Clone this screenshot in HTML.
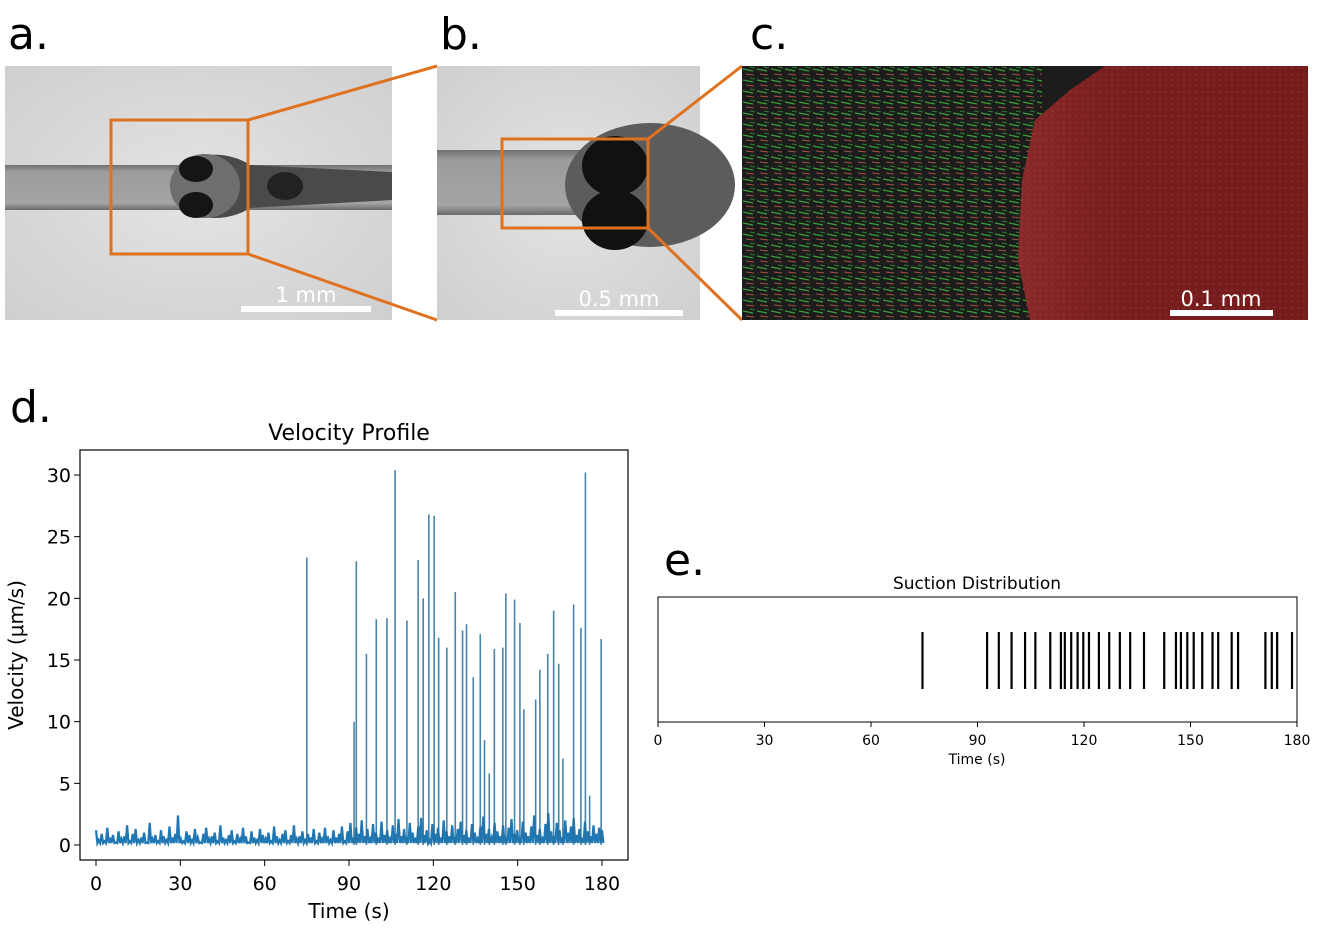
<!DOCTYPE html>
<html><head><meta charset="utf-8"><style>
html,body{margin:0;padding:0;background:#fff;}
svg{display:block;font-family:"DejaVu Sans","Liberation Sans",sans-serif;}
</style></head><body>
<svg id="fig" width="1325" height="932" viewBox="0 0 1325 932" xmlns="http://www.w3.org/2000/svg">
<defs>
<radialGradient id="vig" cx="50%" cy="50%" r="70%"><stop offset="0" stop-color="#e4e4e4"/><stop offset="1" stop-color="#cfcfcf"/></radialGradient>
<linearGradient id="tube" x1="0" y1="0" x2="0" y2="1"><stop offset="0" stop-color="#707070"/><stop offset="0.15" stop-color="#9c9c9c"/><stop offset="0.85" stop-color="#a4a4a4"/><stop offset="1" stop-color="#6a6a6a"/></linearGradient>
<linearGradient id="redg" x1="0" y1="0" x2="1" y2="0"><stop offset="0" stop-color="#8a2a2a"/><stop offset="0.3" stop-color="#7a1e1e"/><stop offset="1" stop-color="#741b1b"/></linearGradient>
<pattern id="arrows" width="14" height="11" patternUnits="userSpaceOnUse"><line x1="1" y1="3" x2="11" y2="5" stroke="#3fbf3f" stroke-width="1.4"/><line x1="4" y1="8" x2="12" y2="9" stroke="#c0604a" stroke-width="0.9"/><line x1="8" y1="1" x2="13" y2="2" stroke="#2e9a2e" stroke-width="0.9"/></pattern>
<pattern id="speck" width="6" height="6" patternUnits="userSpaceOnUse"><circle cx="2" cy="2" r="0.7" fill="#b06060"/></pattern>
</defs>

<text x="8" y="49" font-size="44">a.</text>
<text x="440" y="49" font-size="44">b.</text>
<text x="750" y="49" font-size="44">c.</text>
<text x="10" y="422" font-size="44">d.</text>
<text x="664" y="575" font-size="44">e.</text>

<g>
<rect x="5" y="66" width="387" height="254" fill="url(#vig)"/>
<rect x="5" y="165" width="387" height="45" fill="url(#tube)"/>
<path d="M175,186 C175,150 225,148 250,165 L392,172 L392,200 L250,208 C225,225 175,222 175,186 Z" fill="#4a4a4a"/>
<ellipse cx="205" cy="186" rx="35" ry="32" fill="#6e6e6e"/>
<ellipse cx="196" cy="169" rx="17" ry="13" fill="#151515"/>
<ellipse cx="196" cy="205" rx="17" ry="13" fill="#151515"/>
<ellipse cx="285" cy="186" rx="18" ry="14" fill="#222"/>
<rect x="111" y="120" width="137" height="134" fill="none" stroke="#e0711f" stroke-width="3"/>
<rect x="241" y="306" width="130" height="6" fill="#fff"/>
<text x="306" y="302" font-size="21" fill="#fff" text-anchor="middle">1 mm</text>
</g>
<line x1="248" y1="120" x2="437" y2="66" stroke="#e0711f" stroke-width="3"/>
<line x1="248" y1="254" x2="437" y2="320" stroke="#e0711f" stroke-width="3"/>

<g>
<rect x="437" y="66" width="263" height="254" fill="url(#vig)"/>
<rect x="437" y="150" width="263" height="65" fill="url(#tube)"/>
<ellipse cx="650" cy="185" rx="85" ry="62" fill="#5c5c5c"/>
<ellipse cx="615" cy="166" rx="33" ry="30" fill="#111"/>
<ellipse cx="615" cy="220" rx="33" ry="30" fill="#111"/>
<rect x="502" y="139" width="146" height="89" fill="none" stroke="#e0711f" stroke-width="3"/>
<rect x="555" y="310" width="128" height="6" fill="#fff"/>
<text x="619" y="306" font-size="21" fill="#fff" text-anchor="middle">0.5 mm</text>
</g>
<line x1="648" y1="139" x2="742" y2="66" stroke="#e0711f" stroke-width="3"/>
<line x1="648" y1="228" x2="742" y2="320" stroke="#e0711f" stroke-width="3"/>

<g>
<rect x="742" y="66" width="566" height="254" fill="#1c1c1c"/>
<rect x="742" y="66" width="300" height="254" fill="url(#arrows)" opacity="0.8"/>
<path d="M1105,66 L1308,66 L1308,320 L1030,320 L1018,260 L1022,180 L1035,120 L1070,90 Z" fill="url(#redg)"/>
<path d="M1105,66 L1308,66 L1308,320 L1030,320 L1018,260 L1022,180 L1035,120 L1070,90 Z" fill="url(#speck)" opacity="0.5"/>
<rect x="1170" y="310" width="103" height="6" fill="#fff"/>
<text x="1221" y="306" font-size="21" fill="#fff" text-anchor="middle">0.1 mm</text>
</g>

<text x="349" y="440" font-size="22" text-anchor="middle">Velocity Profile</text>
<g id="vel"></g>
<rect x="80" y="450" width="548" height="410" fill="none" stroke="#000" stroke-width="1.2"/>
<text x="349" y="918" font-size="20" text-anchor="middle">Time (s)</text>
<text transform="translate(23,655) rotate(-90)" font-size="20" text-anchor="middle">Velocity (μm/s)</text>

<text x="977" y="589" font-size="17" text-anchor="middle">Suction Distribution</text>
<g id="suc"></g>
<rect x="658" y="597" width="639" height="125" fill="none" stroke="#000" stroke-width="1"/>
<text x="977" y="764" font-size="14" text-anchor="middle">Time (s)</text>
</svg>
<script>
const velTicksX = [0,30,60,90,120,150,180];
const velTicksY = [0,5,10,15,20,25,30];
const spikeTimes = [75,91.8,92.6,96.2,99.7,103.5,106.4,110.6,114.6,116.4,118.4,120.3,121.9,124.8,127.8,130.4,131.8,134.2,136.7,138.2,139.9,141.7,144.7,145.8,148.9,150.8,152.2,156.4,157.9,160.7,162.8,164.6,166.1,169.9,172.5,174.1,175.6,179.7];
const spikeValues = [23.3,10,23,15.5,18.3,18.4,30.4,18.2,23.1,20,26.8,26.7,16.8,16,20.5,17.4,17.9,13.6,17.1,8.5,5.8,15.9,16,20.4,19.9,18,11,11.8,14.2,15.5,19,14.7,7,19.5,17.6,30.2,4,16.7];
const noise = [1.2,0.4,0.9,0.3,1.4,0.6,0.8,0.2,1.1,0.5,0.7,1.6,0.3,0.9,1.3,0.4,0.6,1.0,0.2,1.8,0.5,0.8,0.3,1.2,0.7,0.4,1.5,0.6,0.9,2.4,0.5,0.3,1.1,0.8,0.4,1.3,0.6,0.2,0.9,1.4,0.5,0.7,1.0,0.3,1.6,0.6,0.4,0.8,1.2,0.3,0.9,0.5,1.4,0.7,0.2,1.1,0.6,0.4,1.3,0.8,0.5,1.0,0.3,1.5,0.7,0.4,0.9,1.2,0.3,0.8,1.6,0.5,0.7,1.1,0.4,0.9,0.6,1.3,0.3,1.0,0.5,1.4,0.7,0.4,1.2,0.6,0.9,1.5,0.3,1.1,1.8,0.6,1.4,0.9,2.0,0.7,1.3,0.5,1.7,1.0,0.6,1.9,0.8,1.2,0.5,1.6,0.9,2.1,0.7,1.3,0.5,1.8,1.0,0.6,1.5,2.2,0.8,1.2,0.4,1.7,0.9,1.4,0.6,2.0,1.1,0.7,1.6,0.5,1.3,1.9,0.8,1.2,0.6,1.7,1.0,0.5,1.5,2.3,0.9,1.3,0.6,1.8,1.1,0.7,1.6,0.5,1.4,2.1,0.9,1.2,0.6,1.9,1.0,0.7,1.5,2.4,0.8,1.3,0.5,1.7,2.6,1.1,0.7,1.8,1.2,0.6,2.0,1.0,1.5,2.2,0.8,1.3,0.6,1.9,1.1,0.7,1.6,0.9,1.4,1.2];
const sucTicks = [0,30,60,90,120,150,180];
const sucEvents = [74.5,92.7,96,99.6,103.4,106.3,110.5,113.5,114.6,116.4,118.2,119.8,121.4,124.2,127.1,130.1,133,136.9,142.6,145.9,147.3,149.1,150.9,153.3,156.2,157.8,161.6,163.4,171.1,172.9,174.4,178.6];

const NS='http://www.w3.org/2000/svg';
function mk(tag, attrs, parent){const e=document.createElementNS(NS,tag);for(const k in attrs)e.setAttribute(k,attrs[k]);parent.appendChild(e);return e;}
const vx = t => 96 + t*(602-96)/180;
const vy = v => 845 - v*(845-475)/30;
const vel = document.getElementById('vel');
let pts=[];
for(let i=0;i<noise.length;i++){const t=i*180/(noise.length-1);pts.push(vx(t).toFixed(1)+','+vy(noise[i]).toFixed(1));pts.push(vx(t+0.5).toFixed(1)+','+vy(0.15).toFixed(1));}
const nl = mk('polyline',{points:pts.join(' '),fill:'none',stroke:'#1f77b4','stroke-width':2.2},vel);


spikeTimes.forEach((t,i)=>{
  const l = mk('line',{x1:vx(t),x2:vx(t),y1:vy(0),y2:vy(spikeValues[i]),stroke:'#2a6f9c','stroke-width':1.6,opacity:0.85},vel);
  
  
});
velTicksX.forEach(t=>{
  mk('line',{x1:vx(t),x2:vx(t),y1:860,y2:866,stroke:'#000'},vel);
  const tx = mk('text',{x:vx(t),y:890,'font-size':19,'text-anchor':'middle'},vel);
  tx.textContent=t;
  
  
});
velTicksY.forEach(v=>{
  mk('line',{x1:74,x2:80,y1:vy(v),y2:vy(v),stroke:'#000'},vel);
  const tx = mk('text',{x:71,y:vy(v)+7,'font-size':19,'text-anchor':'end'},vel);
  tx.textContent=v;
  
  
});
const sx = t => 658 + t*(1297-658)/180;
const suc = document.getElementById('suc');
sucEvents.forEach(t=>{
  const l = mk('line',{x1:sx(t),x2:sx(t),y1:632,y2:689,stroke:'#000','stroke-width':2.2},suc);
  
  
});
sucTicks.forEach(t=>{
  mk('line',{x1:sx(t),x2:sx(t),y1:722,y2:727,stroke:'#000'},suc);
  const tx = mk('text',{x:sx(t),y:745,'font-size':14,'text-anchor':'middle'},suc);
  tx.textContent=t;
  
  
});
</script>
</body></html>
